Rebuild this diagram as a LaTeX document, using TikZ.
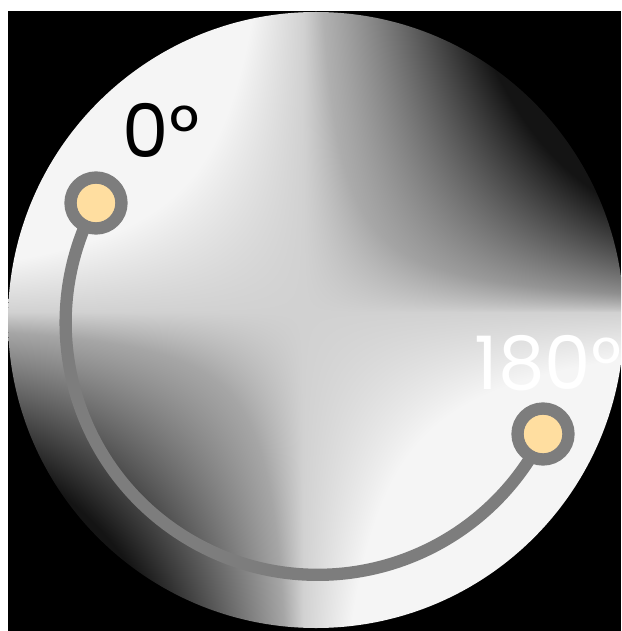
\documentclass[tikz,border=0pt]{standalone}
\usepackage{fontspec}
\setmainfont{Poppins}
\usepackage{tikz}
\usetikzlibrary{
    arrows.meta,
    calc
}

% gray saddle pattern of the disk
\pgfdeclarefunctionalshading{saddle}{\pgfpoint{-50bp}{-50bp}}{\pgfpoint{50bp}{50bp}}{}{
  0.277 sub exch 0.604 add
  2 copy mul
  dup 0 gt
  {38 div dup 1 gt {pop 1} if 0.08 mul
   3 1 roll abs exch
   dup 0 gt {1.25} {1.0} ifelse
   exch abs exch
   dup 2 exch sub
   3 -1 roll exch exp
   3 1 roll exp mul
   0.00235 mul add neg 0.82 add}
  {neg 96 div dup 1 gt {pop 1} if 0.14 mul 0.82 add
   3 1 roll pop pop}
  ifelse
  dup 0.96 gt {pop 0.96} if
  dup 0.08 lt {pop 0.08} if
  dup dup
}

\definecolor{dotfill}{RGB}{255,222,160}
\definecolor{arcgray}{RGB}{125,125,125}

\tikzset{
    dot/.style={circle, draw=arcgray, fill=dotfill, line width=7, minimum size=29, inner sep=0},
    arcline/.style={draw=arcgray, line width=7},
    lbl/.style={inner sep=0, font=\fontsize{42}{42}\selectfont}
}

\begin{document}
\begin{tikzpicture}[x=0.02cm, y=-0.02cm]

\useasboundingbox (0,0) rectangle (621,631);

% Background
\fill[white] (0,0) rectangle (621,631);
\fill[black] (8,11) rectangle (621,631);

% Disk
\begin{scope}
\clip (8,11) rectangle (621,631);
\clip (316,320) circle[radius=308];
\shade[shading=saddle] (0,0) rectangle (621,631);
\end{scope}

% Arc from 0 to 180
\coordinate (p0) at (96,203);
\coordinate (p180) at (543,434);
\draw[arcline] (p0) arc[start angle=208.4, end angle=26.3, radius=252];

% Dots
\node[dot] (d0) at (p0) {};
\node[dot] (d180) at (p180) {};

% Labels
\node[lbl] (t0) at (161,130) {0°};
\node[lbl, text=white] (t180) at (548,363) {180°};

\end{tikzpicture}
\end{document}
